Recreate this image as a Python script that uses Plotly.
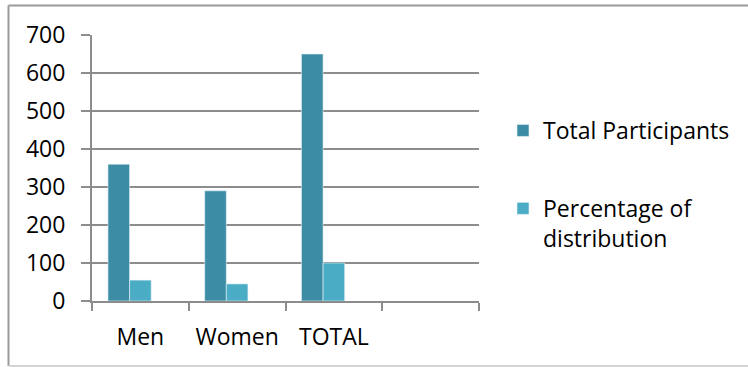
import plotly.graph_objects as go

categories = ["Men", "Women", "TOTAL", " "]
total_participants = [360, 290, 650, None]
percentage_distribution = [55, 45, 100, None]
empty_series = [None, None, None, None]
y_ticks = [0, 100, 200, 300, 400, 500, 600, 700]

DARK = "#3C8CA5"
LIGHT = "#4BACC6"
GRID = "#8C8C8C"
FONT = "Open Sans"
FS = 23

fig = go.Figure()
fig.add_trace(go.Bar(x=categories, y=total_participants, name="Total Participants",
                     marker=dict(color=DARK, line=dict(color="#e8f3f6", width=0.6)),
                     legendgroup="a"))
fig.add_trace(go.Bar(x=categories, y=percentage_distribution, name="Percentage of<br>distribution",
                     marker=dict(color=LIGHT, line=dict(color="#e8f3f6", width=0.6)),
                     legendgroup="b"))
fig.add_trace(go.Bar(x=categories, y=empty_series, name="", showlegend=False,
                     marker=dict(color=LIGHT), legendgroup="c"))

W, H = 748, 367
L, R, T, B = 92, 269, 35, 66
pw, ph = W - L - R, H - T - B

def px_x(p):
    return (p - L) / pw

def px_y(p):
    return (H - B - p) / ph

fig.update_layout(
    width=W, height=H,
    margin=dict(l=L, r=R, t=T, b=B),
    paper_bgcolor="white", plot_bgcolor="white",
    barmode="group", bargap=0.33, bargroupgap=0,
    font=dict(family=FONT, size=FS, color="#000000"),
    showlegend=True,
    legend=dict(x=px_x(503), xanchor="left", y=px_y(109), yanchor="top",
                font=dict(family=FONT, size=FS, color="#000000"),
                traceorder="grouped", tracegroupgap=45, valign="top",
                bgcolor="rgba(0,0,0,0)"),
    xaxis=dict(type="category", categoryorder="array", categoryarray=categories,
               showgrid=False, showline=True, linecolor=GRID, linewidth=2,
               ticks="outside", tickson="boundaries", ticklen=8, tickwidth=2,
               tickcolor=GRID, ticklabelstandoff=14,
               tickfont=dict(family=FONT, size=FS, color="#000000"), fixedrange=True),
    yaxis=dict(range=[0, 700], tickvals=y_ticks, showgrid=True, gridcolor=GRID, gridwidth=2,
               showline=True, linecolor=GRID, linewidth=2, zeroline=False,
               ticks="outside", ticklen=9, tickwidth=2, tickcolor=GRID,
               ticklabelstandoff=11,
               tickfont=dict(family=FONT, size=FS, color="#000000"), fixedrange=True),
    shapes=[
        dict(type="line", xref="paper", yref="paper", x0=px_x(8.5), x1=px_x(8.5),
             y0=px_y(5.5), y1=px_y(366), line=dict(color="#9a9a9a", width=2)),
        dict(type="line", xref="paper", yref="paper", x0=px_x(8.5), x1=px_x(748),
             y0=px_y(5.5), y1=px_y(5.5), line=dict(color="#9a9a9a", width=2)),
        dict(type="line", xref="paper", yref="paper", x0=px_x(8.5), x1=px_x(748),
             y0=px_y(366), y1=px_y(366), line=dict(color="#d4d4d4", width=2)),
    ],
)

fig.write_html("out.html", config=dict(displayModeBar=False))
